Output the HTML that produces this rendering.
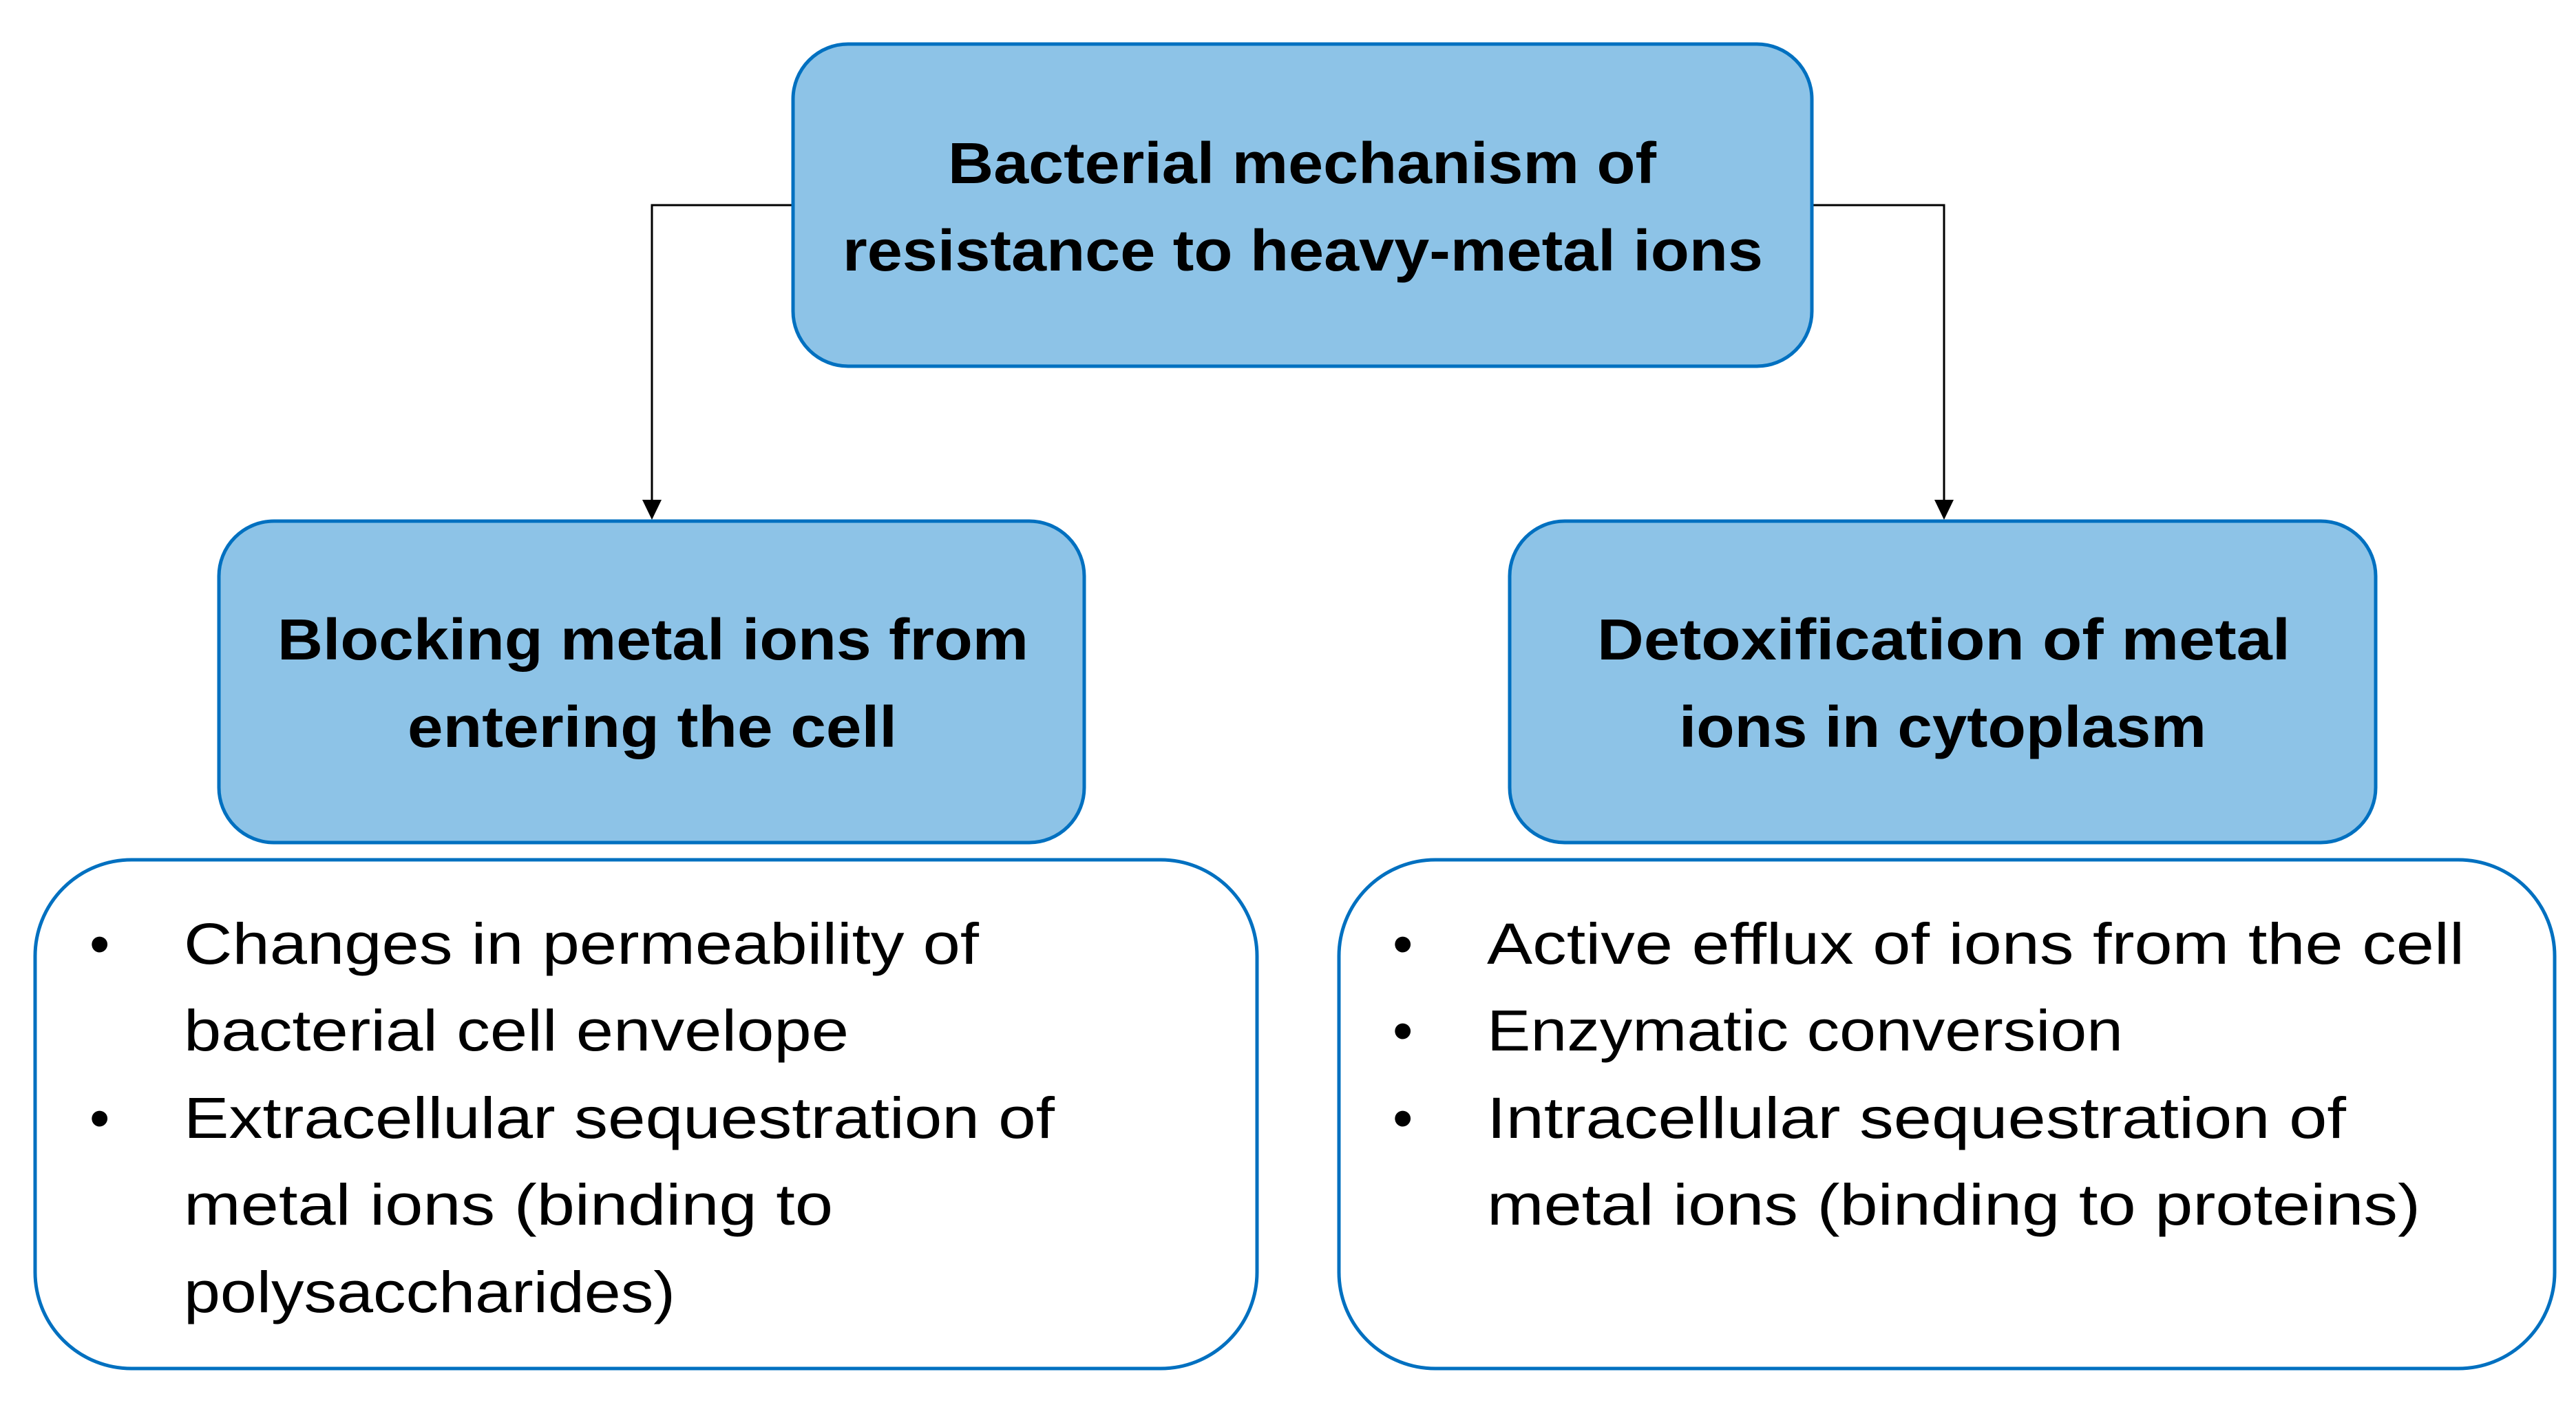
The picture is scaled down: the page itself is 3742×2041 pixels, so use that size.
<!DOCTYPE html>
<html><head><meta charset="utf-8"><style>html,body{margin:0;padding:0;background:#fff}svg{display:block}</style></head>
<body>
<svg width="3742" height="2041" viewBox="0 0 3742 2041" xmlns="http://www.w3.org/2000/svg">
<defs><marker id="a" markerWidth="10" markerHeight="10" refX="5" refY="9" orient="auto" markerUnits="userSpaceOnUse"><path d="M0,0 L10,0 L5,10 z" fill="#000"/></marker></defs>
<g stroke="#000" stroke-width="3" fill="none">
<polyline points="1152,298 947,298 947,730"/>
<polygon points="933,726 961,726 947,755" fill="#000" stroke="none"/>
<polyline points="2632,298 2824,298 2824,730"/>
<polygon points="2810,726 2838,726 2824,755" fill="#000" stroke="none"/>
</g>
<g fill="#8DC3E7" stroke="#0070C0" stroke-width="5">
<rect x="1152" y="64" width="1480" height="468" rx="80"/>
<rect x="318" y="757" width="1257" height="467" rx="80"/>
<rect x="2193" y="757" width="1258" height="467" rx="80"/>
</g>
<g fill="#fff" stroke="#0070C0" stroke-width="5">
<rect x="51" y="1249" width="1775" height="739" rx="140"/>
<rect x="1945" y="1249" width="1766" height="739" rx="140"/>
</g>
<g font-family="Liberation Sans, sans-serif" font-weight="bold" font-size="84" fill="#000" lengthAdjust="spacingAndGlyphs">
<text x="1377" y="266" textLength="1029" lengthAdjust="spacingAndGlyphs">Bacterial mechanism of</text>
<text x="1224" y="393" textLength="1337" lengthAdjust="spacingAndGlyphs">resistance to heavy-metal ions</text>
<text x="403" y="958" textLength="1091" lengthAdjust="spacingAndGlyphs">Blocking metal ions from</text>
<text x="592" y="1085" textLength="711" lengthAdjust="spacingAndGlyphs">entering the cell</text>
<text x="2320" y="958" textLength="1007" lengthAdjust="spacingAndGlyphs">Detoxification of metal</text>
<text x="2439" y="1085" textLength="766" lengthAdjust="spacingAndGlyphs">ions in cytoplasm</text>
</g>
<g font-family="Liberation Sans, sans-serif" font-size="84" fill="#000">
<text x="130" y="1400">•</text>
<text x="130" y="1653">•</text>
<text x="267" y="1400" textLength="1155" lengthAdjust="spacingAndGlyphs">Changes in permeability of</text>
<text x="267" y="1526" textLength="966" lengthAdjust="spacingAndGlyphs">bacterial cell envelope</text>
<text x="267" y="1653" textLength="1265" lengthAdjust="spacingAndGlyphs">Extracellular sequestration of</text>
<text x="267" y="1779" textLength="943" lengthAdjust="spacingAndGlyphs">metal ions (binding to</text>
<text x="267" y="1906" textLength="714" lengthAdjust="spacingAndGlyphs">polysaccharides)</text>
<text x="2023" y="1400">•</text>
<text x="2023" y="1526">•</text>
<text x="2023" y="1653">•</text>
<text x="2160" y="1400" textLength="1420" lengthAdjust="spacingAndGlyphs">Active efflux of ions from the cell</text>
<text x="2160" y="1526" textLength="924" lengthAdjust="spacingAndGlyphs">Enzymatic conversion</text>
<text x="2160" y="1653" textLength="1248" lengthAdjust="spacingAndGlyphs">Intracellular sequestration of</text>
<text x="2160" y="1779" textLength="1356" lengthAdjust="spacingAndGlyphs">metal ions (binding to proteins)</text>
</g>
</svg>
</body></html>
